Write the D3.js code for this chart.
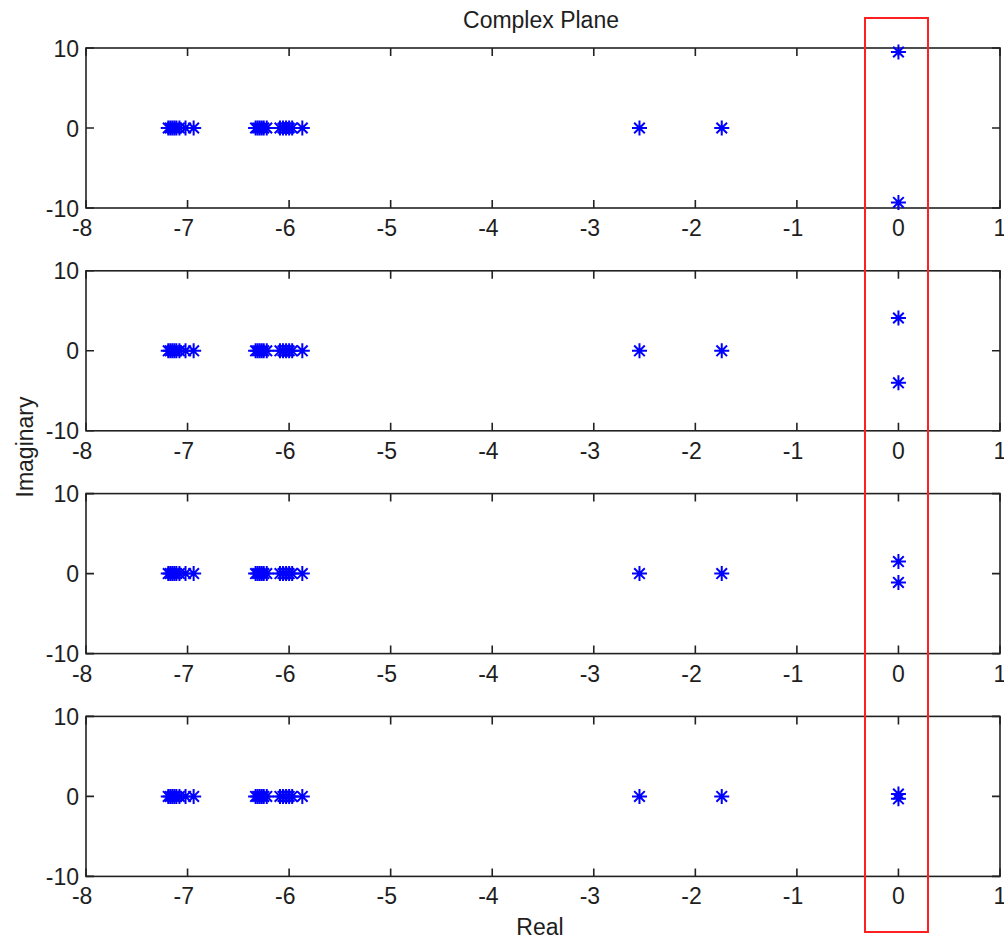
<!DOCTYPE html>
<html>
<head>
<meta charset="utf-8">
<script src="https://cdn.jsdelivr.net/npm/d3@7"></script>
<style>
  html, body { margin: 0; padding: 0; background: #fff; }
  svg { display: block; }
  text { font-family: "Liberation Sans", Arial, Helvetica, sans-serif; fill: #1e1e1e; }
</style>
</head>
<body>
<svg id="chart" width="1004" height="942"></svg>
<script>
// Real-axis poles shared by every panel
const clusterA = [-7.19, -7.17, -7.15, -7.13, -7.11, -7.08, -7.02, -6.94];
const clusterB = [-6.33, -6.31, -6.29, -6.27, -6.25, -6.22, -6.09, -6.06, -6.03, -6.00, -5.97, -5.87];
const slowPoles = [-2.55, -1.74];
// Imaginary parts of the pole pair on the imaginary axis, one pair per panel
const pairImag = [[9.5, -9.3], [4.1, -4.0], [1.5, -1.1], [0.3, -0.3]];

const xTicks = [-8, -7, -6, -5, -4, -3, -2, -1, 0, 1];
const yTicks = [-10, 0, 10];
const xDomain = [-8, 1];
const yDomain = [-10, 10];

const title = "Complex Plane";
const xLabel = "Real";
const yLabel = "Imaginary";

const svg = d3.select("#chart");
const left = 86, right = 1000;
const panelTop0 = 48, panelStep = 222.8, panelH = 160;
const fs = 23;
const tickLen = 8;
const axisColor = "#222";

const x = d3.scaleLinear().domain(xDomain).range([left, right]);

// width of the minus sign, so negative labels centre on their digits
const probe = svg.append("text").attr("font-size", fs).text("-");
const minusW = probe.node().getComputedTextLength();
probe.remove();

// star marker: plus combined with a cross
function star(r) {
  const d = r / Math.SQRT2;
  return `M${-r},0L${r},0M0,${-r}L0,${r}M${-d},${-d}L${d},${d}M${-d},${d}L${d},${-d}`;
}

pairImag.forEach((pair, i) => {
  const top = panelTop0 + i * panelStep;
  const y = d3.scaleLinear().domain(yDomain).range([top + panelH, top]);
  const g = svg.append("g");

  // frame
  g.append("rect")
    .attr("x", left).attr("y", top)
    .attr("width", right - left).attr("height", panelH)
    .attr("fill", "none").attr("stroke", axisColor).attr("stroke-width", 1.6);

  // x ticks (inward, top and bottom)
  g.selectAll(null).data(xTicks).enter().append("path")
    .attr("d", d => `M${x(d)},${top + panelH}v${-tickLen}M${x(d)},${top}v${tickLen}`)
    .attr("stroke", axisColor).attr("stroke-width", 1.6);
  g.selectAll(null).data(xTicks).enter().append("text")
    .attr("x", d => x(d) - (d < 0 ? minusW / 2 : 0))
    .attr("y", top + panelH + 28)
    .attr("text-anchor", "middle").attr("font-size", fs)
    .text(d => d);

  // y ticks (inward, left and right)
  g.selectAll(null).data(yTicks).enter().append("path")
    .attr("d", d => `M${left},${y(d)}h${tickLen}M${right},${y(d)}h${-tickLen}`)
    .attr("stroke", axisColor).attr("stroke-width", 1.6);
  g.selectAll(null).data(yTicks).enter().append("text")
    .attr("x", left - 7).attr("y", d => y(d) + 8.5)
    .attr("text-anchor", "end").attr("font-size", fs)
    .text(d => d);

  // poles
  const pts = [];
  clusterA.concat(clusterB, slowPoles).forEach(re => pts.push([re, 0]));
  pair.forEach(im => pts.push([0, im]));
  g.selectAll(null).data(pts).enter().append("path")
    .attr("transform", d => `translate(${x(d[0])},${y(d[1])})`)
    .attr("d", star(7.5))
    .attr("fill", "none").attr("stroke", "#0000ff").attr("stroke-width", 2);
});

// title and axis labels
svg.append("text").attr("x", 541).attr("y", 28)
  .attr("text-anchor", "middle").attr("font-size", fs).text(title);
svg.append("text").attr("x", 540).attr("y", 935)
  .attr("text-anchor", "middle").attr("font-size", fs).text(xLabel);
svg.append("text")
  .attr("transform", "translate(33,447) rotate(-90)")
  .attr("text-anchor", "middle").attr("font-size", fs).text(yLabel);

// highlight box around the imaginary-axis poles
svg.append("rect")
  .attr("x", 865).attr("y", 18)
  .attr("width", 63).attr("height", 914)
  .attr("fill", "none").attr("stroke", "#ff2020").attr("stroke-width", 2);
</script>
</body>
</html>
